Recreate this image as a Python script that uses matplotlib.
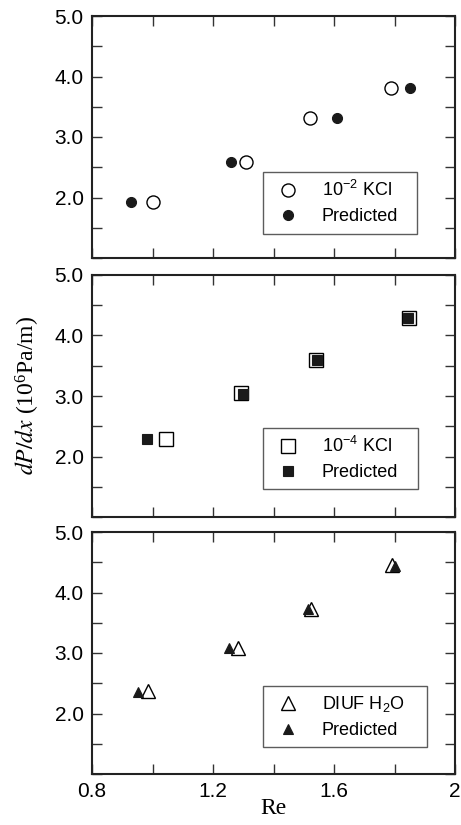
import matplotlib
matplotlib.use('Agg')
import matplotlib.pyplot as plt
from matplotlib.ticker import MultipleLocator, FixedLocator, FixedFormatter

plt.rcParams['font.family'] = ['Liberation Sans', 'DejaVu Sans']
plt.rcParams['mathtext.fontset'] = 'stix'

# panel 1: 10^-2 KCl
re_kcl2 = [1.00, 1.31, 1.52, 1.79]
dp_kcl2 = [1.92, 2.59, 3.31, 3.81]
re_kcl2_pred = [0.93, 1.26, 1.61, 1.85]
dp_kcl2_pred = [1.92, 2.59, 3.31, 3.81]

# panel 2: 10^-4 KCl
re_kcl4 = [1.044, 1.292, 1.540, 1.849]
dp_kcl4 = [2.29, 3.05, 3.60, 4.29]
re_kcl4_pred = [0.982, 1.300, 1.543, 1.843]
dp_kcl4_pred = [2.29, 3.04, 3.60, 4.29]

# panel 3: DIUF water
re_h2o = [0.984, 1.283, 1.524, 1.793]
dp_h2o = [2.37, 3.09, 3.73, 4.45]
re_h2o_pred = [0.951, 1.252, 1.515, 1.803]
dp_h2o_pred = [2.36, 3.09, 3.72, 4.44]

x_ticks = [0.8, 1.2, 1.6, 2.0]
x_ticklabels = ['0.8', '1.2', '1.6', '2']
y_ticks = [2.0, 3.0, 4.0, 5.0]
y_ticklabels = ['2.0', '3.0', '4.0', '5.0']

fig = plt.figure(figsize=(4.61, 8.25), dpi=100)

W, H = 461.0, 825.0
left, right = 92, 455
tops = [16, 275, 532]
ph = 242

panels = [
    (re_kcl2, dp_kcl2, re_kcl2_pred, dp_kcl2_pred, 'o', 9.4, 7.2,
     r'$\mathregular{10^{-2}}$ KCl', 0.355, 154),
    (re_kcl4, dp_kcl4, re_kcl4_pred, dp_kcl4_pred, 's', 9.6, 7.2,
     r'$\mathregular{10^{-4}}$ KCl', 0.368, 155),
    (re_h2o, dp_h2o, re_h2o_pred, dp_h2o_pred, '^', 10.4, 7.6,
     r'DIUF H$\mathregular{_2}$O', 0.364, 164),
]

axes = []
for i, (xe, ye, xp, yp, mk, ms_open, ms_fill, lab, ly, lw_px) in enumerate(panels):
    ax = fig.add_axes([left / W, 1 - (tops[i] + ph) / H, (right - left) / W, ph / H])
    ax.plot(xe, ye, linestyle='none', marker=mk, ms=ms_open, mfc='white',
            mec='black', mew=1.0, label=lab)
    ax.plot(xp, yp, linestyle='none', marker=mk, ms=ms_fill, mfc='#1a1a1a',
            mec='#1a1a1a', mew=0.8, label='Predicted')
    ax.set_xlim(0.8, 2.0)
    ax.set_ylim(1.0, 5.0)
    ax.xaxis.set_major_locator(FixedLocator(x_ticks))
    ax.xaxis.set_minor_locator(MultipleLocator(0.2))
    ax.yaxis.set_major_locator(FixedLocator(y_ticks))
    ax.yaxis.set_major_formatter(FixedFormatter(y_ticklabels))
    ax.yaxis.set_minor_locator(MultipleLocator(0.5))
    if i == 2:
        ax.xaxis.set_major_formatter(FixedFormatter(x_ticklabels))
    else:
        ax.tick_params(axis='x', labelbottom=False)
    ax.tick_params(which='both', direction='in', top=True, right=True,
                   length=7, width=1.0, color='#333333')
    ax.tick_params(which='major', labelsize=15, pad=6)
    for s in ax.spines.values():
        s.set_linewidth(1.5)
        s.set_color('#222222')
    lw_ax = lw_px / (right - left)
    leg = ax.legend(loc='upper left', bbox_to_anchor=(0.471, ly - 0.2, lw_ax, 0.2),
                    mode='expand',
                    borderaxespad=0, fontsize=13, frameon=True, fancybox=False,
                    handlelength=1.9, handletextpad=0.9, labelspacing=0.45,
                    borderpad=0.45)
    leg.get_frame().set_edgecolor('#333333')
    leg.get_frame().set_linewidth(1.0)
    axes.append(ax)

fig.text(28 / W, 1 - 396 / H, r'$dP/dx$ (10$\mathregular{^6}$Pa/m)',
         rotation=90, ha='center', va='center', fontsize=17,
         family='Liberation Serif')
fig.text(273 / W, 1 - 809 / H, 'Re', ha='center', va='center', fontsize=17,
         family='Liberation Serif')

fig.savefig('out.png', dpi=100)
